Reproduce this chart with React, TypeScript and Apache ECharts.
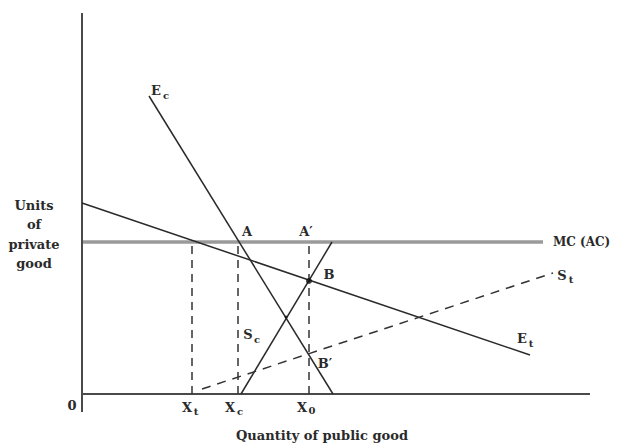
import React, { useEffect, useRef } from "react";
import * as echarts from "echarts";

// Chart units: quantity of public good (x) and units of private good (y)
const ecLine = [[67, 298], [251, 0]];
const etLine = [[0, 191], [448, 39]];
const mcLine = [[0, 152], [461, 152]];
const scLine = [[159, 0], [250, 152]];
const stLine = [[120, 5], [471, 121]];
const xtDrop = [[110, 0], [110, 152]];
const xcDrop = [[156, 0], [156, 152]];
const x0Drop = [[227, 0], [227, 152]];
const pointB = [[227, 113]];
const crossPoint = [[204, 77]];
const xAxisLine = [[-19, 0], [508, 0]];
const yAxisLine = [[0, -18], [0, 381]];

const FONT = "'DejaVu Serif', 'Liberation Serif', serif";
const INK = "#2a2a2a";

function txt(text: string, x: number, y: number, size = 14, align = "center", weight = "bold") {
  return {
    type: "text",
    x,
    y,
    silent: true,
    style: {
      text,
      fill: INK,
      font: `${weight} ${size}px ${FONT}`,
      textAlign: align,
      textVerticalAlign: "middle",
    },
  };
}

function lineSeries(data: number[][], color: string, width: number, type: any = "solid") {
  return {
    type: "line",
    data,
    symbol: "none",
    clip: false,
    silent: true,
    lineStyle: { color, width, type },
    z: 2,
  };
}

export default function App() {
  const ref = useRef<HTMLDivElement>(null);
  useEffect(() => {
    if (!ref.current) return;
    const chart = echarts.init(ref.current, undefined, { renderer: "svg" });
    chart.setOption({
      animation: false,
      backgroundColor: "#ffffff",
      grid: { left: 82, top: 13, width: 520, height: 381 },
      xAxis: {
        type: "value",
        min: 0,
        max: 520,
        show: false,
      },
      yAxis: {
        type: "value",
        min: 0,
        max: 381,
        show: false,
      },
      series: [
        lineSeries(mcLine, "#9a9a9a", 3.5),
        lineSeries(xAxisLine, "#4a4a4a", 2),
        lineSeries(yAxisLine, "#4a4a4a", 2),
        lineSeries(ecLine, INK, 1.5),
        lineSeries(etLine, INK, 1.5),
        lineSeries(scLine, INK, 1.5),
        lineSeries(stLine, "#333", 1.5, [9, 7]),
        lineSeries(xtDrop, "#333", 1.5, [8, 6]),
        lineSeries(xcDrop, "#333", 1.5, [8, 6]),
        lineSeries(x0Drop, "#333", 1.5, [8, 6]),
        {
          type: "scatter",
          data: pointB,
          symbolSize: 6,
          itemStyle: { color: "#111" },
          silent: true,
          z: 3,
        },
        {
          type: "scatter",
          data: crossPoint,
          symbolSize: 3,
          itemStyle: { color: "#111" },
          silent: true,
          z: 3,
        },
      ],
      graphic: [
        txt("E", 156, 90, 13),
        txt("c", 166, 95, 10),
        txt("A", 247, 231, 13),
        txt("A\u2032", 306, 231, 13),
        txt("B", 329, 274, 13),
        txt("B\u2032", 325, 363, 13),
        txt("S", 248, 334, 13),
        txt("c", 257, 339, 10),
        txt("X", 187, 407, 13),
        txt("t", 196, 411, 10),
        txt("X", 230, 407, 13),
        txt("c", 240, 411, 10),
        txt("X", 302, 407, 13),
        txt("0", 312, 410, 10),
        txt("MC (AC)", 553, 242, 12, "left"),
        txt("S", 562, 275, 13),
        txt("t", 571, 279, 10),
        txt("E", 522, 338, 13),
        txt("t", 531, 343, 10),
        txt("0", 72, 405, 13),
        txt("Quantity of public good", 322, 435, 13),
        txt("Units", 34, 205, 13),
        txt("of", 34, 224, 13),
        txt("private", 34, 244, 13),
        txt("good", 34, 263, 13),
      ],
    });
    return () => chart.dispose();
  }, []);
  return (
    <div
      ref={ref}
      style={{ position: "absolute", left: 0, top: 0, width: 622, height: 443 }}
    />
  );
}
